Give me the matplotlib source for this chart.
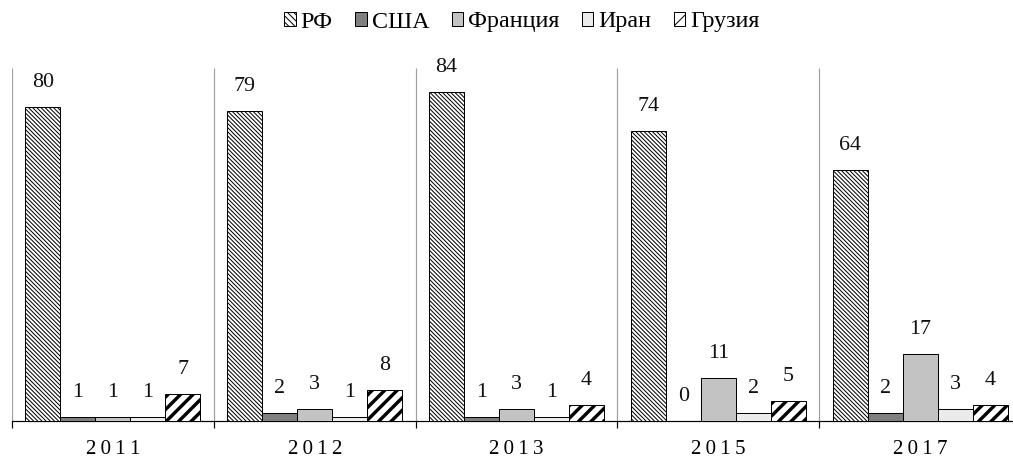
import matplotlib
matplotlib.use("Agg")
import matplotlib.pyplot as plt
import numpy as np
from matplotlib.patches import Patch

DPI = 75
W, H = 1013, 461
def pt(px):
    return px * 72.0 / DPI

years = ["2011", "2012", "2013", "2015", "2017"]
series_names = ["РФ", "США", "Франция", "Иран", "Грузия"]
rf = [80, 79, 84, 74, 64]
usa = [1, 2, 1, 0, 2]
france = [1, 3, 3, 11, 17]
iran = [1, 1, 1, 2, 3]
georgia = [7, 8, 4, 5, 4]
series = [rf, usa, france, iran, georgia]

facecolors = ["white", "#7f7f7f", "#c3c3c3", "#ebebeb", "white"]
hatches = ["\\" * 6, None, None, None, "//"]
hatch_lws = [pt(1.0), None, None, None, pt(3.4)]

plt.rcParams['font.family'] = ['Liberation Serif', 'DejaVu Serif']

fig = plt.figure(figsize=(W / DPI, H / DPI), dpi=DPI)
ax = fig.add_axes([12 / W, 40 / H, 1009 / W, 353 / H])

n = len(series)
bw = 35 / 202
x = np.arange(len(years))
for i, (vals, fc, hatch, hlw) in enumerate(zip(series, facecolors, hatches, hatch_lws)):
    pos = x + (i - (n - 1) / 2) * bw
    if hlw is not None:
        plt.rcParams['hatch.linewidth'] = hlw
    bars = ax.bar(pos, vals, width=bw, facecolor=fc, edgecolor="black",
                  linewidth=pt(1.0), hatch=hatch, label=series_names[i], zorder=3)
    for b, v in zip(bars, vals):
        if hlw is not None and hasattr(b, "set_hatch_linewidth"):
            b.set_hatch_linewidth(hlw)
        if v == 0:
            b.set_visible(False)
    for p, v in zip(pos, vals):
        ax.annotate(f"{v}", xy=(p, v), xytext=(0, pt(15)), textcoords="offset points",
                    ha="center", va="bottom", fontsize=pt(22), color="#111111")

ax.set_xlim(-0.5, 4.5)
ax.set_ylim(0, 90)
ax.vlines(np.arange(len(years)) - 0.5, 0, 90, colors="#a0a0a0", linewidth=pt(1.2), zorder=1)

for s in ["top", "right", "left"]:
    ax.spines[s].set_visible(False)
ax.spines["bottom"].set_linewidth(pt(1.2))
ax.set_yticks([])
ax.set_xticks(np.arange(len(years) + 1) - 0.5)
ax.set_xticklabels([])
ax.tick_params(axis="x", which="major", direction="out", length=pt(7), width=pt(1.2))
ax.set_xticks(x, minor=True)
ax.set_xticklabels(["\u2009".join(y) for y in years], minor=True, fontsize=pt(21))
ax.tick_params(axis="x", which="minor", length=0, pad=pt(19))

leg_hatches = ["\\" * 4, None, None, None, "/"]
plt.rcParams['hatch.linewidth'] = pt(1.0)
handles = []
for fc, h, nm in zip(facecolors, leg_hatches, series_names):
    hp = Patch(facecolor=fc, edgecolor="black", hatch=h, linewidth=pt(1.0), label=nm)
    if h == "/" and hasattr(hp, "set_hatch_linewidth"):
        hp.set_hatch_linewidth(pt(4.0))
    handles.append(hp)
fig.legend(handles=handles, loc="center", bbox_to_anchor=(522 / W, 1 - 22 / H), ncol=5,
           frameon=False, fontsize=pt(24), handlelength=0.47, handleheight=0.47,
           handletextpad=0.2, columnspacing=0.95, borderaxespad=0)

fig.savefig("out.png", dpi=DPI)
